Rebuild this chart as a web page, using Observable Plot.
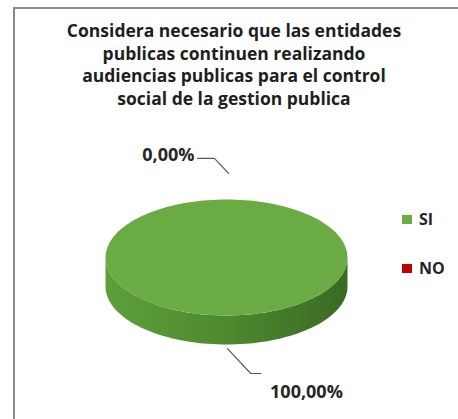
<!DOCTYPE html>
<html>
<head>
<meta charset="utf-8">
<script src="https://cdn.jsdelivr.net/npm/d3@7"></script>
<script src="https://cdn.jsdelivr.net/npm/@observablehq/plot@0.6"></script>
<style>
  html, body { margin: 0; padding: 0; background: #fff; }
  #wrap { position: relative; width: 458px; height: 419px; overflow: hidden; background: #fff; }
  #frame { position: absolute; left: 13px; top: 7px; width: 460px; height: 420px; border-left: 2px solid #8a8a8a; border-top: 2px solid #8a8a8a; box-sizing: border-box; }
  #title { position: absolute; left: 0; width: 468px; top: 19px; text-align: center; font-family: "Open Sans", sans-serif; font-weight: bold; font-size: 17.5px; line-height: 22.5px; color: #1e1e1e; }
  #chart { position: absolute; left: 0; top: 0; }
  .leg { position: absolute; left: 402px; font-family: "Open Sans", sans-serif; font-weight: bold; font-size: 16px; line-height: 20px; color: #262626; display: flex; align-items: center; }
  .leg i { display: inline-block; flex: 0 0 auto; width: 10px; height: 9px; margin-right: 7px; }
</style>
</head>
<body>
<div id="wrap">
  <div id="frame"></div>
  <div id="chart"></div>
  <div id="title"></div>
</div>
<script>
// ---- data ----
const titleLines = [
  "Considera necesario que las entidades",
  "publicas continuen realizando",
  "audiencias publicas para el control",
  "social de la gestion publica"
];
const categories = ["SI", "NO"];
const values = [100, 0];
const labels = ["100,00%", "0,00%"];
const colors = ["#6aab44", "#c00000"];
const sideColors = ["url(#sideGradSI)", "#8a0000"];

// ---- layout ----
const depth = 0.5;     // cylinder thickness in y units
const N = 160;

document.getElementById("title").innerHTML = titleLines.join("<br>");

// legend
categories.forEach((c, i) => {
  const d = document.createElement("div");
  d.className = "leg";
  d.style.top = (209 + i * 49) + "px";
  d.innerHTML = `<i style="background:${colors[i]}"></i>${c}`;
  document.getElementById("wrap").appendChild(d);
});

// Pie angles (clockwise from 12 o'clock, Excel style)
const pie = d3.pie().sort(null).value(d => d.value);
const arcs = pie(categories.map((c, i) => ({cat: c, value: values[i], i})));

const topPolys = [];
const sidePolys = [];
arcs.forEach(a => {
  const i = a.data.i;
  if (a.endAngle - a.startAngle <= 0) return;
  const full = a.endAngle - a.startAngle >= 2 * Math.PI - 1e-9;
  const n = Math.max(2, Math.ceil(N * (a.endAngle - a.startAngle) / (2 * Math.PI)));
  const pts = [];
  if (!full) pts.push({x: 0, y: 0});
  for (let k = 0; k <= n; k++) {
    const t = a.startAngle + (a.endAngle - a.startAngle) * k / n;
    pts.push({x: Math.sin(t), y: Math.cos(t)});
  }
  pts.forEach(p => { p.i = i; });
  topPolys.push(pts);
  // front side: visible for angles in [PI/2, 3PI/2]
  const s0 = Math.max(a.startAngle, Math.PI / 2), s1 = Math.min(a.endAngle, 3 * Math.PI / 2);
  if (s1 > s0) {
    const m = Math.max(2, Math.ceil(N * (s1 - s0) / (2 * Math.PI)));
    const upper = [], lower = [];
    for (let k = 0; k <= m; k++) {
      const t = s0 + (s1 - s0) * k / m;
      upper.push({x: Math.sin(t), y: Math.cos(t), i});
      lower.push({x: Math.sin(t), y: Math.cos(t) - depth, i});
    }
    sidePolys.push(upper.concat(lower.reverse()));
  }
});

// Leaders: offsets relative to the slice's edge point (in scale units)
const leaderFor = a => {
  const mid = (a.startAngle + a.endAngle) / 2;
  const dx = Math.sin(mid), dy = Math.cos(mid);
  const front = dy < 0;
  const ex = dx, ey = dy - (front ? depth : 0);
  if (!front) {
    return {
      pts: [{x: ex + 0.017, y: ey + 0.45}, {x: ex - 0.1, y: ey + 0.71}, {x: ex - 0.24, y: ey + 0.71}],
      lx: ex - 0.265, ly: ey + 0.77, anchor: "end"
    };
  }
  return {
    pts: [{x: ex + 0.008, y: ey - 0.07}, {x: ex + 0.2, y: ey - 0.5}, {x: ex + 0.285, y: ey - 0.5}],
    lx: ex + 0.36, ly: ey - 0.83, anchor: "start"
  };
};
const leaders = [], labelPts = [];
arcs.forEach(a => {
  const L = leaderFor(a);
  leaders.push(L.pts.map(p => ({...p, i: a.data.i})));
  labelPts.push({x: L.lx, y: L.ly, text: labels[a.data.i], anchor: L.anchor});
});

const marks = [];
sidePolys.forEach(p => marks.push(Plot.line(p, {x: "x", y: "y", fill: sideColors[p[0].i], stroke: "none", curve: "linear-closed"})));
topPolys.forEach(p => marks.push(Plot.line(p, {x: "x", y: "y", fill: colors[p[0].i], stroke: "none", curve: "linear-closed"})));
leaders.forEach(p => marks.push(Plot.line(p, {x: "x", y: "y", stroke: "#595959", strokeWidth: 1.2})));
["start", "end"].forEach(an => {
  marks.push(Plot.text(labelPts.filter(d => d.anchor === an), {
    x: "x", y: "y", text: "text", textAnchor: an, fontSize: 18, fontWeight: "bold",
    fontFamily: "'Open Sans', sans-serif", fill: "#262626"
  }));
});

const svg = Plot.plot({
  width: 458, height: 419,
  margin: 0,
  x: {domain: [-1, 1], range: [105, 347], axis: null},
  y: {domain: [-1, 1], range: [315, 199], axis: null},
  style: {background: "transparent", overflow: "visible"},
  marks
});

// gradient for the green side
const defs = d3.select(svg).insert("defs", ":first-child");
const g = defs.append("linearGradient").attr("id", "sideGradSI")
  .attr("x1", "0").attr("y1", "0").attr("x2", "1").attr("y2", "0");
g.append("stop").attr("offset", "0%").attr("stop-color", "#5e9e3a");
g.append("stop").attr("offset", "45%").attr("stop-color", "#4f8c30");
g.append("stop").attr("offset", "100%").attr("stop-color", "#3a6a23");

document.getElementById("chart").appendChild(svg);
</script>
</body>
</html>
